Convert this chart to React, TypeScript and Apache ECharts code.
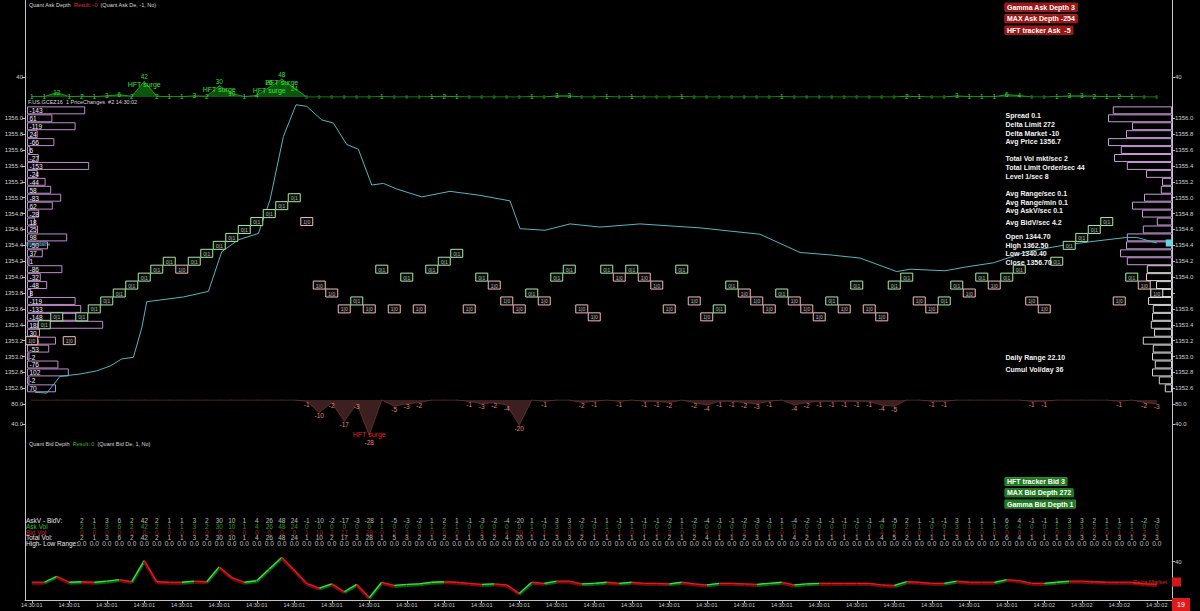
import React, { useEffect, useRef } from "react";
import * as echarts from "echarts";

const FONT = "'Liberation Sans', Arial, Helvetica, sans-serif";

const X_MIN = -4.54;
const X_MAX = 87.22;

// columns before the table starts
const preCols = [-4, -3, -2, -1];
const preAsk = [1, 1, 12, 1];
const preBid = [0, 0, 0, 0];
const preDelta = [1, 1, 12, 1];

// table columns 0..86
const deltaVals = [
  2, 1, 3, 6, 2, 42, 2, 1, 1, 3, 2, 30, 10, 1, 4, 26, 48, 24, -1, -10, -2, -17, -3, -28, 1, -5,
  -3, -2, 1, 2, 1, -1, -3, -2, -4, -20, 1, -1, 3, 3, -2, -1, 1, -1, 1, -1, -1, -2, 1, -2, -4, -1, -1, -2, -3, -1, 1, -4,
  -2, -1, -1, -1, -1, -1, -4, -5, 2, 1, -1, -1, 3, 1, 1, 1, 6, 4, -1, -1, 1, 3, 3, 2, 1, 1, 1, -2, -3,
];
const askVol = [
  2, 1, 3, 6, 2, 42, 2, 1, 1, 3, 2, 30, 10, 1, 4, 26, 48, 24, 0, 0, 0, 0, 0, 0, 1, 0,
  0, 0, 1, 2, 1, 0, 0, 0, 0, 0, 1, 0, 3, 3, 0, 0, 1, 0, 1, 0, 0, 0, 1, 0, 0, 0, 0, 0, 0, 0, 1, 0,
  0, 0, 0, 0, 0, 0, 0, 0, 2, 1, 0, 0, 3, 1, 1, 1, 6, 4, 0, 0, 1, 3, 3, 2, 1, 2, 1, 0, 0,
];
const bidVol = [
  0, 0, 0, 0, 0, 0, 0, 0, 0, 0, 0, 0, 0, 0, 0, 0, 0, 0, 1, 10, 2, 17, 3, 28, 0, 5,
  3, 2, 0, 0, 0, 1, 3, 2, 4, 20, 0, 1, 0, 0, 2, 1, 0, 1, 0, 1, 1, 2, 0, 2, 4, 1, 1, 2, 3, 1, 0, 4,
  2, 1, 1, 1, 1, 1, 4, 5, 0, 0, 1, 1, 0, 0, 0, 0, 0, 0, 1, 1, 0, 0, 0, 0, 0, 1, 0, 2, 3,
];
const highLowRange = [
  0, 0, 0, 0, 0, 0, 0, 0, 0, 0, 0, 0, 0, 0, 0, 0, 0, 0, 0, 0, 0, 0, 0, 0, 0, 0,
  0, 0, 0, 0, 0, 0, 0, 0, 0, 0, 0, 0, 0, 0, 0, 0, 0, 0, 0, 0, 0, 0, 0, 0, 0, 0, 0, 0, 0, 0, 0, 0,
  0, 0, 0, 0, 0, 0, 0, 0, 0, 0, 0, 0, 0, 0, 0, 0, 0, 0, 0, 0, 0, 0, 0, 0, 0, 0, 0, 0, 0,
];

const tickCols = [-4, -1, 2, 5, 8, 11, 14, 17, 20, 23, 26, 29, 32, 35, 38, 41, 44, 47, 50, 53, 56, 59, 62, 65, 68, 71, 74, 77, 80, 83, 86];
const tickTimes = [
  "14:30:01", "14:30:01", "14:30:01", "14:30:01", "14:30:01", "14:30:01", "14:30:01", "14:30:01", "14:30:01", "14:30:01",
  "14:30:01", "14:30:01", "14:30:01", "14:30:01", "14:30:01", "14:30:01", "14:30:01", "14:30:01", "14:30:01", "14:30:01",
  "14:30:01", "14:30:01", "14:30:01", "14:30:01", "14:30:01", "14:30:01", "14:30:01", "14:30:02", "14:30:02", "14:30:02", "14:30:02",
];

const priceCols = [
  -3.74, -2.8, -1.74, -0.14, 1.2, 2.26, 3.2, 4.13, 4.8, 5.2, 8.13, 10.13, 11.2, 12.53, 14.13, 15.06, 16.13, 17.14, 18.0, 19.2,
  20.13, 21.2, 22.13, 23.2, 24.13, 25.2, 27.2, 29.46, 31.86, 34.26, 35.06, 37.06, 39.06, 41.46, 44.66, 49.46, 54.26, 57.46,
  59.86, 62.26, 65.2, 66.26, 69.06, 70.8, 72.93, 75.6, 78.5, 80.9, 83.6, 84.4, 86.0,
];
const priceVals = [
  1352.55, 1352.54, 1352.75, 1352.78, 1352.82, 1352.88, 1352.97, 1352.99, 1353.36, 1353.69, 1353.75, 1353.82, 1354.32, 1354.47,
  1354.55, 1354.97, 1355.77, 1356.17, 1356.15, 1355.98, 1355.94, 1355.67, 1355.61, 1355.16, 1355.18, 1355.11, 1355.01, 1355.08,
  1355.03, 1354.96, 1354.61, 1354.59, 1354.67, 1354.63, 1354.67, 1354.62, 1354.54, 1354.31, 1354.28, 1354.24, 1354.07, 1354.1,
  1354.08, 1354.13, 1354.18, 1354.32, 1354.4, 1354.45, 1354.5, 1354.5, 1354.43,
];
const lastTradePrice = 1353.8;

// tick boxes for cols -4..86
const boxPrices = [
  1353.2, 1353.4, 1353.5, 1353.2, 1353.5,
  1353.6, 1353.7, 1353.8, 1353.9, 1354.0, 1354.1, 1354.2, 1354.1, 1354.2, 1354.3,
  1354.4, 1354.5, 1354.6, 1354.7, 1354.8, 1354.9, 1355.0, 1354.7, 1353.9, 1353.8,
  1353.6, 1353.7, 1353.6, 1354.1, 1353.6, 1354.0, 1353.6, 1354.1, 1354.2, 1354.3,
  1353.6, 1354.0, 1353.9, 1353.7, 1353.6, 1353.8, 1353.7, 1354.0, 1354.1, 1353.6,
  1353.5, 1354.1, 1354.0, 1354.1, 1354.0, 1353.9, 1353.6, 1354.1, 1353.7, 1353.5,
  1353.6, 1353.9, 1353.8, 1353.7, 1353.6, 1353.8, 1353.7, 1353.6, 1353.5, 1353.7,
  1353.6, 1353.9, 1353.6, 1353.5, 1353.9, 1354.0, 1353.7, 1353.6, 1353.7, 1353.9,
  1353.8, 1354.0, 1353.9, 1354.0, 1354.1, 1353.7, 1353.6, 1354.2, 1354.4, 1354.5,
  1354.6, 1354.7, 1353.7, 1354.0, 1353.9, 1353.8,
];
const boxSides = (
  "pggpg" + "ggggggg" + "p" + "ggggggggg" + "pppp" + "gpgpgp" + "ggg" + "pgppp" + "gpggpp" +
  "gpgppp" + "gppggppp" + "gppp" + "gpgpp" + "ggppggp" + "gpggpp" + "gggggpgpw"
).split("");

const profilePrices = [
  1356.1, 1356.0, 1355.9, 1355.8, 1355.7, 1355.6, 1355.5, 1355.4, 1355.3, 1355.2, 1355.1, 1355.0,
  1354.9, 1354.8, 1354.7, 1354.6, 1354.5, 1354.4, 1354.3, 1354.2, 1354.1, 1354.0, 1353.9, 1353.8,
  1353.7, 1353.6, 1353.5, 1353.4, 1353.3, 1353.2, 1353.1, 1353.0, 1352.9, 1352.8, 1352.7, 1352.6,
];
const leftProfile = [
  -143, 61, -119, 24, -66, 6, -27, -153, -24, -44, 58, -83,
  62, -28, 18, 25, 98, -50, 37, 1, -86, -32, -48, 8,
  -119, -133, -148, 188, 30, -70, -53, -2, -76, 102, -2, 70,
];
const rightProfile = [
  148, 160, 100, 115, 160, 128, 145, 113, 65, 25, 28, 70,
  100, 75, 38, 73, 113, 115, 130, 113, 63, 65, 40, 53,
  60, 48, 50, 53, 45, 73, 48, 50, 43, 50, 33, 18,
];

const surgeLevel = 25;

const infoLines = [
  "Spread 0.1", "Delta Limit 272", "Delta Market -10", "Avg Price 1356.7",
  "Total Vol mkt/sec 2", "Total Limit Order/sec 44", "Level 1/sec 8",
  "Avg Range/sec 0.1", "Avg Range/min 0.1", "Avg AskV/sec 0.1", "Avg BidV/sec 4.2",
  "Open 1344.70", "High 1362.50", "Low 1340.40", "Close 1356.70",
  "Daily Range 22.10", "Cumul Vol/day 36",
];
const infoY = [115.7, 124.3, 133, 141.7, 158.3, 167.3, 176, 193.7, 202.3, 210.7, 222.3, 236.7, 245.3, 253.7, 262, 357.3, 369.3];
const askBoxes = ["Gamma Ask Depth 3", "MAX Ask Depth -254", "HFT tracker Ask  -5"];
const bidBoxes = ["HFT tracker Bid 3", "MAX Bid Depth 272", "Gamma Bid Depth 1"];
const tableRows = ["AskV - BidV:", "Ask Vol", "Bid Vol", "Total Vol:", "High- Low Range:"];

const App = () => {
  const ref = useRef<HTMLDivElement>(null);
  useEffect(() => {
    if (!ref.current) return;
    const chart = echarts.init(ref.current, null, { renderer: "svg" });

    const tableCols = askVol.map((_, i) => i);
    const allCols = [...preCols, ...tableCols];
    const askAll = [...preAsk, ...askVol];
    const bidAll = [...preBid, ...bidVol];
    const deltaAll = [...preDelta, ...deltaVals];
    const totalVol = askVol.map((a, i) => a + bidVol[i]);

    const segData: number[][] = [];
    for (let i = 0; i < allCols.length - 1; i++) {
      segData.push([allCols[i], deltaAll[i], allCols[i + 1], deltaAll[i + 1]]);
    }

    const gridBase = { left: 25, right: 28, outerBoundsMode: "none" as any, containLabel: false };
    const priceTop = 102.4;
    const priceH = 301.8;

    const noZeroLine = { show: false, onZero: false };
    const hx = (gridIndex: number, extra: any = {}) => ({
      type: "value", gridIndex, min: X_MIN, max: X_MAX, show: false, axisLine: noZeroLine, ...extra,
    });
    const hy = (gridIndex: number, min: number, max: number) => ({
      type: "value", gridIndex, min, max, show: false, axisLine: noZeroLine,
    });
    const axisTxt = { fontSize: 6, color: "#cfcfcf", fontFamily: FONT };
    const tickStyle = { lineStyle: { color: "#bdbdbd" } };

    const rowColors = ["#e6e6e6", "#2ec42e", "#d42a2a", "#e6e6e6", "#e6e6e6"];
    const rowVals = [
      deltaVals.map((v) => String(v)),
      askVol.map((v) => String(v)),
      bidVol.map((v) => String(v)),
      totalVol.map((v) => String(v)),
      highLowRange.map((v) => v.toFixed(1)),
    ];

    const tableSeries = tableRows.map((row, r) => ({
      type: "scatter",
      xAxisIndex: 5,
      yAxisIndex: 10,
      symbolSize: 1,
      itemStyle: { color: "rgba(0,0,0,0)" },
      data: tableCols.map((c, i) => [c, row, rowVals[r][i]]),
      label: {
        show: true,
        position: "inside",
        formatter: (p: any) => p.value[2],
        fontSize: 6.5,
        fontFamily: FONT,
        color: rowColors[r],
      },
      z: 5,
    }));

    const graphic: any[] = [
      { type: "line", shape: { x1: 25.5, y1: 0, x2: 25.5, y2: 600 }, style: { stroke: "#c4c4c4", lineWidth: 1 }, z: 100 },
      { type: "line", shape: { x1: 1172.5, y1: 0, x2: 1172.5, y2: 600 }, style: { stroke: "#c4c4c4", lineWidth: 1 }, z: 100 },
      {
        type: "text", x: 29, y: 5, z: 100,
        style: {
          text: "Quant Ask Depth  {r|Result: -0}  (Quant Ask De, -1, No)",
          fill: "#d8d8d8", fontSize: 5.5, fontFamily: FONT, verticalAlign: "middle",
          rich: { r: { fill: "#e23030", color: "#e23030", fontSize: 5.5, fontFamily: FONT } },
        },
      },
      {
        type: "text", x: 28, y: 101.5, z: 100,
        style: { text: "F.US.GCEZ16  1 PriceChanges  #2 14:30:02", fill: "#d8d8d8", fontSize: 5.5, fontFamily: FONT, verticalAlign: "middle" },
      },
      {
        type: "text", x: 29, y: 444, z: 100,
        style: {
          text: "Quant Bid Depth  {g|Result: 0}  (Quant Bid De, 1, No)",
          fill: "#d8d8d8", fontSize: 5.5, fontFamily: FONT, verticalAlign: "middle",
          rich: { g: { fill: "#2fbf2f", color: "#2fbf2f", fontSize: 5.5, fontFamily: FONT } },
        },
      },
      {
        type: "text", x: 26, y: 243.5, z: 100,
        style: { text: "Inventaire", fill: "#4fd0d8", fontSize: 5.5, fontFamily: FONT, verticalAlign: "middle" },
      },
      {
        type: "text", x: 1167, y: 582, z: 100,
        style: { text: "Delta Market", fill: "#e02020", fontSize: 6, fontFamily: FONT, align: "right", verticalAlign: "middle" },
      },
      { type: "rect", shape: { x: 1172, y: 577.5, width: 9, height: 9 }, style: { fill: "#d41616" }, z: 100 },
      { type: "rect", shape: { x: 1172, y: 598, width: 18, height: 13 }, style: { fill: "#e01a1a" }, z: 100 },
      {
        type: "text", x: 1181, y: 604.5, z: 101,
        style: { text: "19", fill: "#fff", fontSize: 7, fontFamily: FONT, align: "center", verticalAlign: "middle" },
      },
    ];
    infoLines.forEach((t, i) => {
      graphic.push({
        type: "text", x: 1005.5, y: infoY[i], z: 100,
        style: { text: t, fill: "#f2f2f2", fontSize: 7, fontWeight: "bold", fontFamily: FONT, verticalAlign: "middle" },
      });
    });
    askBoxes.forEach((t, i) => {
      graphic.push({
        type: "text", x: 1005, y: 7.2 + i * 11.5, z: 100,
        style: {
          text: t, fill: "#ffffff", fontSize: 7, fontWeight: "bold", fontFamily: FONT, verticalAlign: "middle",
          backgroundColor: "#a01414", padding: [1, 2, 0, 2], borderColor: "#c43a3a", borderWidth: 0.5,
        },
      });
    });
    bidBoxes.forEach((t, i) => {
      graphic.push({
        type: "text", x: 1005, y: 481.5 + i * 11.3, z: 100,
        style: {
          text: t, fill: "#ffffff", fontSize: 7, fontWeight: "bold", fontFamily: FONT, verticalAlign: "middle",
          backgroundColor: "#217a21", padding: [1, 2, 0, 2], borderColor: "#3aa33a", borderWidth: 0.5,
        },
      });
    });

    const option: any = {
      backgroundColor: "#000000",
      animation: false,
      textStyle: { fontFamily: FONT },
      grid: [
        { ...gridBase, top: 5, height: 92 },
        { ...gridBase, top: priceTop, height: priceH },
        { left: 27, top: priceTop, height: priceH, width: 400, outerBoundsMode: "none" },
        { right: 28, top: priceTop, height: priceH, width: 400, outerBoundsMode: "none" },
        { ...gridBase, top: 400, height: 44 },
        { ...gridBase, top: 518, height: 28 },
        { ...gridBase, top: 555, height: 45 },
      ],
      xAxis: [
        hx(0),
        hx(1),
        { type: "value", gridIndex: 2, min: 0, max: 1000, show: false, axisLine: noZeroLine },
        { type: "value", gridIndex: 3, min: 0, max: 1000, inverse: true, show: false, axisLine: noZeroLine },
        hx(4),
        hx(5),
        {
          type: "value", gridIndex: 6, min: X_MIN, max: X_MAX,
          axisLine: { show: true, onZero: false, lineStyle: { color: "#c4c4c4" } },
          axisTick: { show: true, length: 3, customValues: tickCols, ...tickStyle },
          splitLine: { show: false },
          axisLabel: {
            customValues: tickCols, ...axisTxt, fontSize: 5.5, margin: 2,
            formatter: (v: number) => tickTimes[tickCols.indexOf(Math.round(v))] || "",
          },
        },
      ],
      yAxis: [
        // 0 ask data
        hy(0, 0, 248.6),
        // 1 ask labels left
        {
          type: "value", gridIndex: 0, min: 0, max: 184, position: "left",
          splitLine: { show: false }, axisLine: noZeroLine,
          axisTick: { show: true, length: 3, customValues: [40], ...tickStyle },
          axisLabel: { customValues: [40], ...axisTxt, margin: 2 },
        },
        // 2 ask labels right
        {
          type: "value", gridIndex: 0, min: 0, max: 184, position: "right",
          splitLine: { show: false }, axisLine: noZeroLine,
          axisTick: { show: true, length: 3, customValues: [40], ...tickStyle },
          axisLabel: { customValues: [40], ...axisTxt, margin: 3 },
        },
        // 3 price left
        {
          type: "value", gridIndex: 1, min: 1352.4, max: 1356.2, interval: 0.2, position: "left",
          splitLine: { show: false }, axisLine: noZeroLine,
          axisTick: { show: true, length: 3, ...tickStyle },
          axisLabel: { ...axisTxt, margin: 2, showMinLabel: false, showMaxLabel: false, formatter: (v: number) => v.toFixed(1) },
        },
        // 4 price right
        {
          type: "value", gridIndex: 1, min: 1352.4, max: 1356.2, interval: 0.2, position: "right",
          splitLine: { show: false }, axisLine: noZeroLine,
          axisTick: { show: true, length: 3, ...tickStyle },
          axisLabel: {
            ...axisTxt, margin: 3, showMinLabel: false, showMaxLabel: false,
            formatter: (v: number) => (Math.abs(v - lastTradePrice) < 0.01 ? "" : v.toFixed(1)),
          },
        },
        // 5 left profile y
        hy(2, 1352.4, 1356.2),
        // 6 right profile y
        hy(3, 1352.4, 1356.2),
        // 7 bid data
        hy(4, -35.2, 0),
        // 8 bid labels left
        {
          type: "value", gridIndex: 4, min: 0, max: 88, position: "left",
          splitLine: { show: false }, axisLine: noZeroLine,
          axisTick: { show: true, length: 3, customValues: [40, 80], ...tickStyle },
          axisLabel: { customValues: [40, 80], ...axisTxt, margin: 2, formatter: (v: number) => v.toFixed(1) },
        },
        // 9 bid labels right
        {
          type: "value", gridIndex: 4, min: 0, max: 88, position: "right",
          splitLine: { show: false }, axisLine: noZeroLine,
          axisTick: { show: true, length: 3, customValues: [40, 80], ...tickStyle },
          axisLabel: { customValues: [40, 80], ...axisTxt, margin: 3, formatter: (v: number) => v.toFixed(1) },
        },
        // 10 table rows
        {
          type: "category", gridIndex: 5, data: tableRows, inverse: true,
          axisLine: noZeroLine, axisTick: { show: false }, splitLine: { show: false },
          axisLabel: {
            inside: true, interval: 0, margin: 1, fontSize: 6.5, fontFamily: FONT,
            color: (_v: any, i: number) => rowColors[i],
          },
        },
        // 11 delta line
        {
          type: "value", gridIndex: 6, min: -32.5, max: 52.5, position: "right",
          splitLine: { show: false }, axisLine: noZeroLine,
          axisTick: { show: true, length: 3, customValues: [40], ...tickStyle },
          axisLabel: { customValues: [40], ...axisTxt, margin: 3 },
        },
      ],
      series: [
        // Ask depth area
        {
          type: "line",
          xAxisIndex: 0,
          yAxisIndex: 0,
          data: allCols.map((c, i) => [c, askAll[i]]),
          symbol: "circle",
          symbolSize: 1,
          itemStyle: { color: "#1e9a1e" },
          lineStyle: { color: "#1f9a1f", width: 1 },
          areaStyle: { color: "#0b560b", opacity: 1 },
          label: {
            show: true,
            position: "inside",
            formatter: (p: any) => {
              const v = p.value[1];
              if (v === 0) return "{z|0}";
              if (v >= surgeLevel) return `{v|${v}}\n{s|HFT surge}`;
              return `{v|${v}}`;
            },
            rich: {
              v: { color: "#35da35", fontSize: 6.5, fontFamily: FONT },
              z: { color: "#1ea01e", fontSize: 5, fontFamily: FONT },
              s: { color: "#38e238", fontSize: 7, fontFamily: FONT, lineHeight: 9 },
            },
          },
          z: 3,
        },
        // left volume profile
        {
          type: "custom",
          xAxisIndex: 2,
          yAxisIndex: 5,
          clip: false,
          data: profilePrices.map((p, i) => [Math.abs(leftProfile[i]), p, leftProfile[i]]),
          renderItem: (_params: any, api: any) => {
            const p = api.value(1);
            const v = api.value(0);
            const a = api.coord([0, p + 0.05]);
            const b = api.coord([v, p - 0.05]);
            const h = b[1] - a[1];
            return {
              type: "group",
              children: [
                {
                  type: "rect",
                  shape: { x: a[0] + 0.5, y: a[1] + 0.5, width: Math.max(b[0] - a[0], 1.5), height: h - 1 },
                  style: { fill: "rgba(0,0,0,0.6)", stroke: "#c08ad0", lineWidth: 1 },
                },
                {
                  type: "text",
                  style: {
                    x: a[0] + 2.5, y: a[1] + h / 2 + 0.5, text: String(api.value(2)),
                    fill: "#f0f0f0", fontSize: 6.5, fontFamily: FONT, align: "left", verticalAlign: "middle",
                  },
                },
              ],
            };
          },
          z: 2,
        },
        // right volume profile
        {
          type: "custom",
          xAxisIndex: 3,
          yAxisIndex: 6,
          clip: false,
          data: profilePrices.map((p, i) => [rightProfile[i], p]),
          renderItem: (_params: any, api: any) => {
            const p = api.value(1);
            const v = api.value(0);
            const a = api.coord([0, p + 0.05]);
            const b = api.coord([v, p - 0.05]);
            const h = b[1] - a[1];
            return {
              type: "rect",
              shape: { x: b[0] + 0.5, y: a[1] + 0.5, width: Math.max(a[0] - b[0] - 1, 1.5), height: h - 1 },
              style: { fill: "rgba(0,0,0,0.6)", stroke: p >= 1354.15 ? "#c99ad8" : "#d6d6d6", lineWidth: 1 },
            };
          },
          z: 2,
        },
        // price line
        {
          type: "line",
          xAxisIndex: 1,
          yAxisIndex: 3,
          data: priceCols.map((c, i) => [c, priceVals[i]]),
          symbol: "none",
          lineStyle: { color: "#52b6c2", width: 1 },
          z: 3,
          markLine: {
            silent: true,
            symbol: "none",
            lineStyle: { opacity: 0 },
            data: [{ yAxis: lastTradePrice }],
            label: {
              show: true,
              position: "end",
              distance: 6,
              formatter: () => lastTradePrice.toFixed(1),
              backgroundColor: "#ffffff",
              color: "#000000",
              fontSize: 6,
              fontFamily: FONT,
              padding: [1, 1, 0, 1],
            },
          },
          markPoint: {
            silent: true,
            symbol: "rect",
            symbolSize: [7, 7],
            itemStyle: { color: "#5fd6de" },
            label: { show: false },
            data: [{ coord: [87.0, priceVals[priceVals.length - 1]] }],
          },
        },
        // tick boxes
        {
          type: "custom",
          xAxisIndex: 1,
          yAxisIndex: 3,
          clip: false,
          data: boxPrices.map((p, i) => [allCols[i], p]),
          renderItem: (params: any, api: any) => {
            const c = api.coord([api.value(0), api.value(1)]);
            const side = boxSides[params.dataIndex];
            const stroke = side === "g" ? "#a2eca2" : side === "p" ? "#f2b8b8" : "#eeeeee";
            return {
              type: "group",
              children: [
                {
                  type: "rect",
                  shape: { x: c[0] - 6, y: c[1] - 4, width: 12, height: 8 },
                  style: { fill: "#0c0c0c", stroke, lineWidth: 1 },
                },
                {
                  type: "text",
                  style: {
                    x: c[0], y: c[1] + 0.5, text: side === "g" ? "0|1" : "1|0",
                    fill: "#b8b8b8", fontSize: 5, fontFamily: FONT, align: "center", verticalAlign: "middle",
                  },
                },
              ],
            };
          },
          z: 4,
        },
        // Bid depth area
        {
          type: "line",
          xAxisIndex: 4,
          yAxisIndex: 7,
          data: allCols.map((c, i) => [c, -bidAll[i]]),
          symbol: "circle",
          symbolSize: 1,
          itemStyle: { color: "#6a2a2a" },
          lineStyle: { color: "#5e2c2c", width: 1 },
          areaStyle: { color: "#3c2020", opacity: 1 },
          label: {
            show: true,
            position: "inside",
            offset: [0, 3],
            formatter: (p: any) => {
              const v = p.value[1];
              if (v === 0) return "";
              if (v <= -surgeLevel) return `{s|HFT surge}\n{v|${v}}`;
              return `{v|${v}}`;
            },
            rich: {
              v: { color: "#e08080", fontSize: 6.5, fontFamily: FONT },
              s: { color: "#ea2020", fontSize: 7, fontFamily: FONT, lineHeight: 9 },
            },
          },
          z: 3,
        },
        ...tableSeries,
        // delta line segments
        {
          type: "custom",
          xAxisIndex: 6,
          yAxisIndex: 11,
          encode: { x: [0, 2], y: [1, 3] },
          data: segData,
          renderItem: (_params: any, api: any) => {
            const a = api.coord([api.value(0), api.value(1)]);
            const b = api.coord([api.value(2), api.value(3)]);
            const up = api.value(3) > api.value(1);
            return {
              type: "group",
              children: [
                {
                  type: "line",
                  shape: { x1: a[0], y1: a[1] + 1, x2: b[0], y2: b[1] + 1 },
                  style: { stroke: up ? "#0f5f0f" : "#7c0a0a", lineWidth: 3 },
                },
                {
                  type: "line",
                  shape: { x1: a[0], y1: a[1], x2: b[0], y2: b[1] },
                  style: { stroke: up ? "#3be43b" : "#e01c1c", lineWidth: 1.3 },
                },
              ],
            };
          },
          z: 3,
        },
      ],
      graphic,
    };

    chart.setOption(option);
    return () => chart.dispose();
  }, []);

  return (
    <div
      ref={ref}
      style={{ position: "fixed", left: 0, top: 0, width: 1200, height: 611, background: "#000" }}
    />
  );
};

export default App;
